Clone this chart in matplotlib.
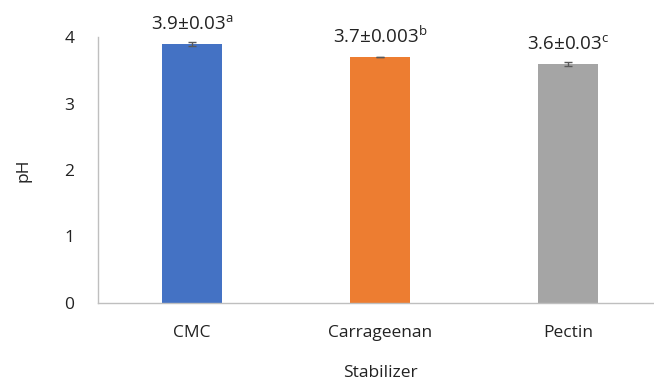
import matplotlib.pyplot as plt

plt.rcParams['font.family'] = ['Open Sans', 'DejaVu Sans']
plt.rcParams['mathtext.fontset'] = 'custom'
plt.rcParams['mathtext.rm'] = 'Open Sans'

stabilizers = ['CMC', 'Carrageenan', 'Pectin']
ph_mean = [3.9, 3.7, 3.6]
ph_sd = [0.03, 0.003, 0.03]
sd_text = ['0.03', '0.003', '0.03']
groups = ['a', 'b', 'c']
colors = ['#4472C4', '#ED7D31', '#A5A5A5']

fig = plt.figure(figsize=(6.54, 3.83), dpi=100)
ax = fig.add_axes([98 / 654, 80 / 383, 564 / 654, 266 / 383])

x = range(len(stabilizers))
ax.bar(x, ph_mean, width=0.314, color=colors, zorder=2)
ax.errorbar(x, ph_mean, yerr=ph_sd, fmt='none', ecolor='#595959',
            elinewidth=1, capsize=3, capthick=1, zorder=3)

# mean ± SD with significance letter above each bar
for i, (m, s, g) in enumerate(zip(ph_mean, sd_text, groups)):
    ax.text(i, m + 0.15, f'{m}±{s}$^{{\\mathrm{{{g}}}}}$', ha='center', va='bottom',
            fontsize=13.5, color='#222222')

ax.set_xlim(-0.5, 2.5)
ax.set_ylim(0, 4)
ax.set_yticks([0, 1, 2, 3, 4])
ax.set_xticks(list(x))
ax.set_xticklabels(stabilizers)
ax.tick_params(length=0, labelsize=12.5, colors='#222222')
ax.tick_params(axis='y', pad=17)
ax.tick_params(axis='x', pad=16)

for side in ['top', 'right']:
    ax.spines[side].set_visible(False)
for side in ['left', 'bottom']:
    ax.spines[side].set_color('#BFBFBF')
    ax.spines[side].set_linewidth(1)

ax.set_ylabel('pH', fontsize=12.5, color='#222222', labelpad=24)
ax.set_xlabel('Stabilizer', fontsize=12.5, color='#222222', labelpad=17)

fig.savefig('out.png', dpi=100)
